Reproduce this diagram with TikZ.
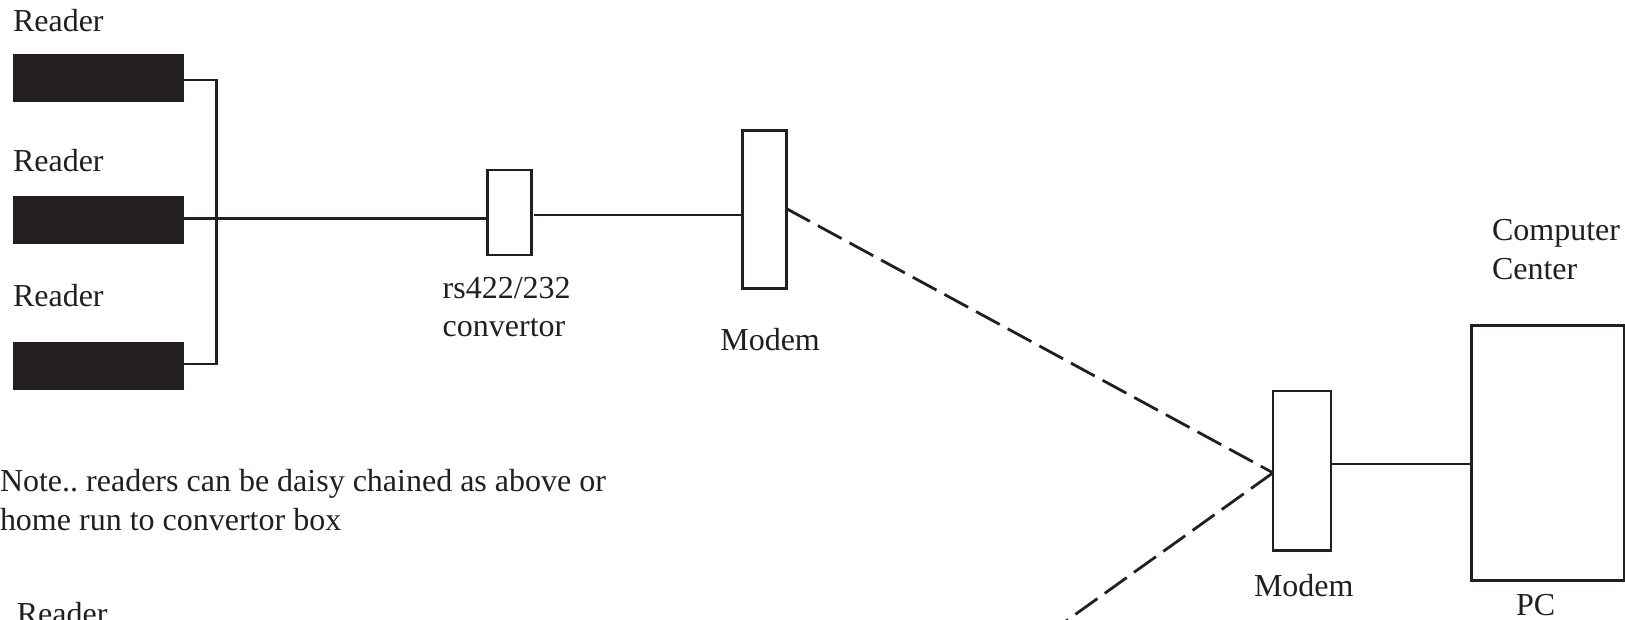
\documentclass[tikz,border=0pt]{standalone}
\usepackage{fontspec}
\usetikzlibrary{calc}
\setmainfont{Liberation Serif}
\definecolor{ink}{HTML}{231F20}
\tikzset{
  pxbox/.style={draw=ink,line width=2.6pt,fill=white,inner sep=0pt,outer sep=0pt,rectangle},
  reader/.style={fill=ink,inner sep=0pt,outer sep=0pt,rectangle,minimum width=171.5pt,minimum height=48pt},
  lbl/.style={text=ink,inner sep=0pt,outer sep=0pt,anchor=base west,align=left,font=\fontsize{32pt}{38.6pt}\selectfont\frenchspacing},
  wire/.style={draw=ink,line width=2.8pt},
  dashwire/.style={draw=ink,line width=2.8pt,dash pattern=on 27pt off 9pt}
}
\begin{document}
\begin{tikzpicture}[x=1pt,y=-1pt]
\useasboundingbox (0,0) rectangle (1625,620);
\clip (0,0) rectangle (1625,620);
\fill[white] (0,0) rectangle (1625,620);
% readers
\node[reader] (r1) at (98.7,78) {};
\node[reader] (r2) at (98.7,220.3) {};
\node[reader] (r3) at (98.7,366) {};
% boxes
\node[pxbox,minimum width=44pt,minimum height=85pt] (conv) at (509.2,212.6) {};
\node[pxbox,minimum width=44pt,minimum height=158pt] (m1) at (764.2,209.5) {};
\node[pxbox,minimum width=58pt,minimum height=159.5pt] (m2) at (1302,470.7) {};
\node[pxbox,minimum width=153pt,minimum height=255.5pt] (pc) at (1547.8,453) {};
% labels
\node[lbl] (t1) at (13,32) {Reader};
\node[lbl] (t2) at (13,172) {Reader};
\node[lbl] (t3) at (13,306.5) {Reader};
\node[lbl] (t4) at (16.8,624) {Reader};
\node[lbl] (t5) at (442.7,298.5) {rs422/232};
\node[lbl] (t6) at (442.7,336) {convertor};
\node[lbl] (t7) at (720.3,350) {Modem};
\node[lbl] (t8) at (0,491) {Note.. readers can be daisy chained as above or};
\node[lbl] (t9) at (0,530) {home run to convertor box};
\node[lbl] (t10) at (1254,596) {Modem};
\node[lbl] (t11) at (1516,615.5) {PC};
\node[lbl] (t12) at (1492,240.5) {Computer};
\node[lbl] (t13) at (1492,279.5) {Center};
% connectors
\coordinate (bus) at (216.5,218.8);
\coordinate (convout) at (534,215);
\coordinate (far) at (1067.5,620);
\coordinate (m2out) at ([yshift=6.7pt]m2.east);
\coordinate (m1d) at ([yshift=1pt]m1.east);
\coordinate (m2d) at ([yshift=-2.1pt]m2.west);
\draw[wire,line join=miter] ([yshift=-2pt]r1.east) -| (bus) |- ([yshift=2pt]r3.east);
\draw[wire] ([yshift=1.5pt]r2.east) -- (conv.west |- bus);
\draw[wire] (convout) -- (m1.west |- convout);
\draw[wire] (m2out) -- (pc.west |- m2out);
\draw[dashwire] (m1d) -- (m2d);
\draw[dashwire] (m2d) -- ($(m2d)!1.3!(far)$);
\end{tikzpicture}
\end{document}
